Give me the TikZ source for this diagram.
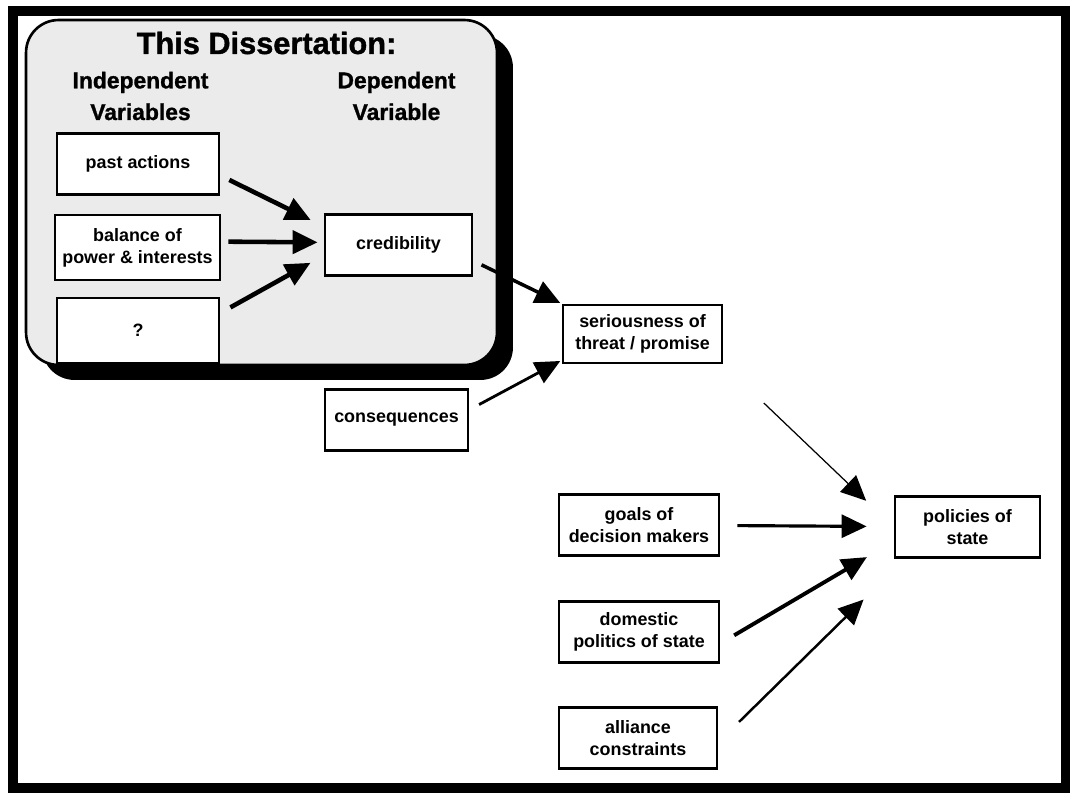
\documentclass[tikz,border=0pt]{standalone}
\usepackage{fontspec}
\setmainfont{Liberation Sans}
\newfontfamily\heavyfont[FakeBold=1.2]{Liberation Sans}
\usepackage{tikz}
\usetikzlibrary{
    arrows.meta,
    shadows
}
\tikzstyle{box} = [
    rectangle, draw,
    line width=1.6pt,
    minimum width=3.24cm,
    minimum height=1.22cm,
    text centered,
    align=center,
    draw=black,
    fill=white,
    font=\bfseries\fontsize{10.2}{12.5}\selectfont
]
\tikzstyle{smallbox} = [
    box,
    minimum width=2.9cm
]
\tikzstyle{heading} = [
    align=center,
    font=\heavyfont\bfseries\fontsize{13}{18}\selectfont
]
\tikzstyle{arrow} = [
    line width=2.6pt,
    ->,
    >={Triangle[length=0.5cm,width=0.46cm]}
]

\begin{document}
\begin{tikzpicture}[x=0.02cm, y=-0.02cm]
	\useasboundingbox (0,0) rectangle (1070,793);
	\draw[line width=6pt] (13,11) rectangle (1066,788);
	\node[draw, line width=1.5pt, rounded corners=0.65cm, fill=black!8,
	    minimum width=9.42cm, minimum height=6.9cm,
	    drop shadow={shadow xshift=0.32cm, shadow yshift=-0.3cm, fill=black, opacity=1}]
	    (diss) at (261.5,192.5) {};
	\node[font=\heavyfont\bfseries\fontsize{17.5}{20}\selectfont] (title) at (266.5,43) {This Dissertation:};
	\node[heading] (indep) at (140.5,96) {Independent\\Variables};
	\node[heading] (dep) at (396.5,96) {Dependent\\Variable};
	\node[box] (past) at (138,164) {past actions};
	\node[box, minimum width=3.3cm, minimum height=1.3cm] (balance) at (137.5,247.5) {balance of\\power \& interests};
	\node[box, minimum height=1.3cm] (quest) at (138,330.5) {?};
	\node[smallbox, minimum width=2.94cm] (cred) at (398.5,245) {credibility};
	\node[box, minimum width=3.18cm, minimum height=1.16cm] (serious) at (642.5,334) {seriousness of\\threat / promise};
	\node[smallbox, minimum width=2.86cm] (conseq) at (396.5,420) {consequences};
	\node[box, minimum width=3.2cm] (goals) at (639,525) {goals of\\decision makers};
	\node[box, minimum width=3.2cm] (domestic) at (639,632) {domestic\\politics of state};
	\node[box, minimum width=3.16cm] (alliance) at (638,738) {alliance\\constraints};
	\node[smallbox] (policies) at (967.5,527) {policies of\\state};
	\draw[arrow, shorten <=0.2cm, shorten >=0.29cm] (past.-8) -- (cred.166);
	\draw[arrow, shorten <=0.14cm, shorten >=0.12cm] (balance.4) -- (cred.178);
	\draw[arrow, shorten <=0.23cm, shorten >=0.3cm] (quest.12) -- (cred.188);
	\draw[arrow, line width=2pt, shorten <=0.18cm, shorten >=0.03cm] (cred.-12) -- (serious.north west);
	\draw[arrow, line width=1.6pt, shorten <=0.22cm, shorten >=0.03cm] (conseq.8) -- (serious.198);
	\draw[arrow, line width=0.7pt, shorten <=1.12cm, shorten >=0.76cm] (serious.south east) -- (policies.west);
	\draw[arrow, line width=1.8pt, shorten <=0.34cm, shorten >=0.54cm] (goals) -- (policies);
	\draw[arrow, line width=2.2pt, shorten <=0.32cm, shorten >=0.62cm] (domestic.-8) -- (policies.191);
	\draw[arrow, line width=1.4pt, shorten <=0.58cm, shorten >=1.16cm] (alliance.-3) -- (policies.207);
\end{tikzpicture}
\end{document}
